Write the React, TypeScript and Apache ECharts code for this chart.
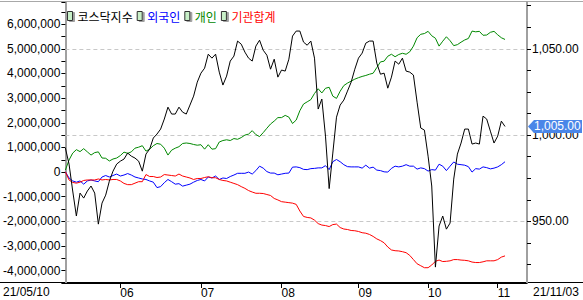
import React, { useEffect, useRef } from 'react';
import * as echarts from 'echarts';

// Trading days (2021) by month
const MONTH_DAYS: [string, number[]][] = [
  ['05', [10, 11, 12, 13, 14, 17, 18, 20, 21, 24, 25, 26, 27, 28, 31]],
  ['06', [1, 2, 3, 4, 7, 8, 9, 10, 11, 14, 15, 16, 17, 18, 21, 22, 23, 24, 25, 28, 29, 30]],
  ['07', [1, 2, 5, 6, 7, 8, 9, 12, 13, 14, 15, 16, 19, 20, 21, 22, 23, 26, 27, 28, 29, 30]],
  ['08', [2, 3, 4, 5, 6, 9, 10, 11, 12, 13, 17, 18, 19, 20, 23, 24, 25, 26, 27, 30, 31]],
  ['09', [1, 2, 3, 6, 7, 8, 9, 10, 13, 14, 15, 16, 17, 23, 24, 27, 28, 29, 30]],
  ['10', [1, 5, 6, 7, 8, 12, 13, 14, 15, 18, 19, 20, 21, 22, 25, 26, 27, 28, 29]],
  ['11', [1, 2, 3]],
];
const dates: string[] = MONTH_DAYS.flatMap(([m, ds]) =>
  ds.map((d) => `21/${m}/${String(d).padStart(2, '0')}`)
);
const AXIS_PAD_SLOTS = 6;

// KOSDAQ index (right axis)
const kosdaq = [
  992.5, 983.2, 967.6, 953.1, 966.4, 963.5, 967.6, 970.5, 966.4, 948.4,
  960.6, 965.2, 973.3, 979.1, 983.2, 984.9, 986.1, 989.6, 987.8, 986.7,
  984.9, 979.1, 989.0, 991.9, 998.3, 1000.6, 1003.5, 1009.3, 1016.2, 1012.2,
  1012.2, 1016.2, 1013.3, 1012.2, 1017.4, 1022.6, 1030.7, 1035.9, 1038.8, 1046.9,
  1044.6, 1046.9, 1036.5, 1029.0, 1034.2, 1042.9, 1045.8, 1054.5, 1052.7, 1048.1,
  1044.6, 1042.9, 1051.6, 1055.0, 1049.2, 1046.3, 1038.2, 1044.0, 1033.6, 1037.7,
  1037.1, 1044.0, 1057.4, 1060.3, 1060.3, 1053.9, 1052.1, 1054.5, 1044.6, 1015.1,
  1020.9, 999.4, 969.0, 989.6, 1010.4, 1017.4, 1020.3, 1025.5, 1030.7, 1038.2,
  1044.6, 1047.5, 1053.3, 1054.5, 1054.5, 1041.7, 1035.3, 1035.9, 1027.2, 1033.6,
  1042.9, 1041.1, 1044.6, 1037.1, 1036.5, 1034.8, 1019.1, 1004.1, 1002.9, 987.8,
  970.5, 923.5, 947.3, 953.1, 945.5, 949.0, 974.5, 989.0, 995.4, 1003.5,
  1003.5, 994.8, 995.4, 994.8, 1011.0, 1009.3, 1002.3, 995.4, 999.4, 1008.1,
  1005.0,
];

// Cumulative net buying, in millions (left axis)
const foreign = [
  0.01, -0.24, -0.36, -0.41, -0.36, -0.49, -0.36, -0.32, -0.36, -0.39,
  -0.2, -0.14, -0.2, -0.14, -0.08, -0.16, -0.12, -0.06, -0.12, -0.2,
  -0.24, -0.28, -0.3, -0.36, -0.41, -0.63, -0.59, -0.43, -0.3, -0.39,
  -0.49, -0.47, -0.57, -0.53, -0.49, -0.41, -0.34, -0.3, -0.36, -0.2,
  -0.24, -0.16, -0.3, -0.24, -0.26, -0.18, -0.12, -0.05, -0.05, -0.05,
  0.0, -0.08, 0.06, 0.24, 0.16, 0.02, -0.04, -0.04, -0.11, -0.08,
  -0.05, -0.04, 0.2, 0.21, 0.18, 0.11, 0.1, 0.14, 0.15, 0.17,
  0.17, 0.26, 0.1, 0.42, 0.51, 0.42, 0.3, 0.22, 0.21, 0.21,
  0.21, 0.16, 0.28, 0.16, 0.2, 0.08, 0.06, 0.01, 0.0, 0.15,
  0.24, 0.21, 0.24, 0.3, 0.24, 0.24, 0.12, 0.17, 0.14, 0.04,
  0.1, 0.08, 0.32, 0.24, 0.06, 0.24, 0.41, 0.32, 0.3, 0.28,
  0.22, 0.0, 0.14, 0.12, 0.21, 0.18, 0.13, 0.16, 0.21, 0.3,
  0.42,
];
const individual = [
  0.08, 0.49, 0.77, 0.91, 0.83, 0.95, 0.82, 0.69, 0.79, 0.82,
  0.57, 0.56, 0.45, 0.53, 0.57, 0.67, 0.81, 0.76, 0.82, 0.97,
  1.01, 1.07, 0.85, 0.93, 1.07, 1.16, 1.13, 0.97, 0.69, 0.89,
  0.97, 1.03, 1.16, 1.18, 1.16, 1.12, 1.09, 1.11, 0.93, 1.11,
  0.93, 0.95, 1.22, 1.28, 1.31, 1.28, 1.36, 1.33, 1.4, 1.5,
  1.54, 1.68, 1.52, 1.44, 1.6, 1.78, 1.95, 2.07, 2.21, 2.21,
  2.3, 2.23, 1.97, 2.11, 2.49, 2.76, 2.85, 2.94, 3.19, 3.38,
  3.21, 3.4, 3.44, 3.08, 2.99, 3.28, 3.51, 3.61, 3.69, 3.77,
  3.83, 3.88, 3.92, 3.97, 4.01, 4.24, 4.47, 4.5, 4.7, 4.78,
  4.68, 4.77, 4.82, 4.78, 4.88, 5.11, 5.45, 5.59, 5.62, 5.71,
  5.53, 5.43, 5.11, 5.31, 5.49, 5.33, 5.13, 5.17, 5.27, 5.36,
  5.42, 5.72, 5.69, 5.71, 5.55, 5.56, 5.67, 5.71, 5.57, 5.45,
  5.38,
];
const institution = [
  0.01, -0.32, -0.42, -0.45, -0.41, -0.34, -0.32, -0.32, -0.32, -0.28,
  -0.32, -0.3, -0.32, -0.3, -0.3, -0.36, -0.46, -0.51, -0.51, -0.45,
  -0.39, -0.39, -0.1, -0.18, -0.18, -0.22, -0.2, -0.1, -0.12, -0.14,
  -0.16, -0.08, -0.16, -0.2, -0.24, -0.3, -0.26, -0.26, -0.22, -0.19,
  -0.23, -0.23, -0.3, -0.34, -0.36, -0.41, -0.46, -0.51, -0.59, -0.66,
  -0.75, -0.81, -0.86, -0.86, -0.87, -0.91, -0.95, -1.07, -1.13, -1.2,
  -1.22, -1.24, -1.26, -1.31, -1.58, -1.8, -1.84, -1.86, -1.95, -2.09,
  -2.15, -2.17, -2.21, -2.13, -2.11, -2.25, -2.31, -2.33, -2.37, -2.38,
  -2.41, -2.46, -2.48, -2.53, -2.61, -2.71, -2.78, -2.87, -3.04, -3.16,
  -3.19, -3.2, -3.23, -3.27, -3.38, -3.55, -3.72, -3.8, -3.88, -3.88,
  -3.77, -3.62, -3.57, -3.63, -3.62, -3.6, -3.55, -3.55, -3.57, -3.58,
  -3.6, -3.65, -3.67, -3.67, -3.64, -3.6, -3.6, -3.6, -3.55, -3.45,
  -3.4,
];
const UNIT = 1_000_000;

const SERIES_NAMES = ['코스닥지수', '외국인', '개인', '기관합계'];
const SERIES_COLORS = ['#000000', '#0000ff', '#008800', '#ff0000'];

const RIGHT_TICKS = [925, 937.5, 950, 962.5, 975, 987.5, 1000, 1012.5, 1025, 1037.5, 1050, 1062.5, 1075];
const RIGHT_LABELS = [950, 1000, 1050];
const GRID_LINES = [950, 1000, 1050];

const FONT = '"Liberation Sans", Arial, sans-serif';
const KFONT = '"Noto Sans CJK KR", "Liberation Sans", sans-serif';

export default function App() {
  const ref = useRef<HTMLDivElement>(null);

  useEffect(() => {
    if (!ref.current) return;
    const chart = echarts.init(ref.current, undefined, { renderer: 'svg' });

    const axisCats = [...dates, ...Array(AXIS_PAD_SLOTS).fill('')];
    const monthStarts = new Set<number>();
    dates.forEach((d, i) => {
      if (i > 0 && d.slice(3, 5) !== dates[i - 1].slice(3, 5)) monthStarts.add(i);
    });
    const isMonthStart = (i: number) => monthStarts.has(i);
    const fmtKosdaq = (v: number) =>
      v.toLocaleString('en-US', { minimumFractionDigits: 2, maximumFractionDigits: 2 });

    const lineSeries = (name: string, color: string, data: number[], yAxisIndex: number, extra: any = {}) => ({
      name,
      type: 'line',
      data,
      yAxisIndex,
      symbol: 'none',
      lineStyle: { color, width: 1 },
      itemStyle: { color },
      emphasis: { disabled: true },
      ...extra,
    });

    const option: any = {
      animation: false,
      backgroundColor: '#ffffff',
      textStyle: { fontFamily: FONT },
      grid: { left: 59, right: 56, top: 2, bottom: 17, containLabel: false },
      legend: {
        left: 62,
        top: 5,
        itemWidth: 5,
        itemHeight: 9,
        itemGap: 4,
        selectedMode: false,
        icon: 'rect',
        itemStyle: {
          color: '#c8f0c8',
          borderColor: '#303030',
          borderWidth: 1,
          shadowColor: '#a0a0a0',
          shadowOffsetX: 2,
          shadowOffsetY: 1,
          shadowBlur: 0,
        },
        textStyle: { fontSize: 12, fontFamily: KFONT },
        data: SERIES_NAMES.map((n, i) => ({ name: n, textStyle: { color: SERIES_COLORS[i] } })),
      },
      xAxis: {
        type: 'category',
        data: axisCats,
        boundaryGap: false,
        axisLine: { show: true, onZero: false, lineStyle: { color: '#000', width: 1 } },
        axisTick: { show: true, interval: isMonthStart, length: 5, lineStyle: { color: '#000' } },
        axisLabel: {
          interval: isMonthStart,
          formatter: (v: string) => v.slice(3, 5),
          align: 'left',
          margin: 4,
          color: '#000',
          fontSize: 12,
          fontFamily: FONT,
        },
        splitLine: { show: false },
      },
      yAxis: [
        {
          type: 'value',
          position: 'left',
          min: -4.5 * UNIT,
          max: 6.9 * UNIT,
          interval: 0.5 * UNIT,
          axisLine: { show: true, lineStyle: { color: '#a0a0a0', width: 2 } },
          axisTick: { show: true, length: 4, lineStyle: { color: '#000' } },
          axisLabel: {
            margin: 5,
            color: '#000',
            fontSize: 12,
            fontFamily: FONT,
            formatter: (v: number) => (v % UNIT === 0 ? v.toLocaleString('en-US') : ''),
          },
          splitLine: { show: false },
        },
        {
          type: 'value',
          position: 'right',
          min: 1000 - 6 * (100 / 7),
          max: 1000 + 5.4 * (100 / 7),
          axisLine: { show: true, lineStyle: { color: '#a0a0a0', width: 2 } },
          axisTick: { show: true, length: 4, customValues: RIGHT_TICKS, lineStyle: { color: '#000' } },
          axisLabel: {
            margin: 5,
            color: '#000',
            fontSize: 12,
            fontFamily: FONT,
            customValues: RIGHT_LABELS,
            formatter: (v: number) => fmtKosdaq(v),
          },
          splitLine: { show: false },
        },
      ],
      series: [
        lineSeries(SERIES_NAMES[1], SERIES_COLORS[1], foreign.map((v) => v * UNIT), 0),
        lineSeries(SERIES_NAMES[2], SERIES_COLORS[2], individual.map((v) => v * UNIT), 0),
        lineSeries(SERIES_NAMES[3], SERIES_COLORS[3], institution.map((v) => v * UNIT), 0),
        lineSeries(SERIES_NAMES[0], SERIES_COLORS[0], kosdaq, 1, {
          z: 3,
          markLine: {
            silent: true,
            symbol: 'none',
            label: { show: false },
            lineStyle: { color: '#c8c8c8', type: [4, 3], width: 1 },
            data: GRID_LINES.map((v) => ({ yAxis: v })),
            z: 1,
          },
        }),
      ],
      graphic: [
        { id: 'topFrame', type: 'line', shape: { x1: 0, y1: 1.5, x2: 583, y2: 1.5 }, style: { stroke: '#a8a8a8', lineWidth: 1 } },
        { id: 'bottomAxis', type: 'line', shape: { x1: 0, y1: 282.5, x2: 583, y2: 282.5 }, style: { stroke: '#000', lineWidth: 1 } },
        {
          id: 'startDate', type: 'text', x: 3, y: 286,
          style: { text: dates[0], font: `12px ${FONT}`, fill: '#000' },
        },
        {
          id: 'endDate', type: 'text', x: 533, y: 286,
          style: { text: dates[dates.length - 1], font: `12px ${FONT}`, fill: '#000' },
        },
      ],
    };

    chart.setOption(option);

    const last = kosdaq[kosdaq.length - 1];
    const ty = chart.convertToPixel({ yAxisIndex: 1 }, last) as number;
    chart.setOption({
      graphic: [
        {
          id: 'tagBox',
          type: 'polygon',
          z: 100,
          shape: {
            points: [
              [528, ty],
              [534, ty - 6.5],
              [582, ty - 6.5],
              [582, ty + 6.5],
              [534, ty + 6.5],
            ],
          },
          style: { fill: '#4a86e8' },
        },
        {
          id: 'tagText',
          type: 'text',
          z: 101,
          x: 534,
          y: ty,
          style: {
            text: fmtKosdaq(last),
            font: `12px ${FONT}`,
            fill: '#ffffff',
            verticalAlign: 'middle',
          },
        },
      ],
    });

    return () => chart.dispose();
  }, []);

  return (
    <div
      ref={ref}
      style={{ position: 'fixed', left: 0, top: 0, width: 583, height: 300, background: '#fff' }}
    />
  );
}
